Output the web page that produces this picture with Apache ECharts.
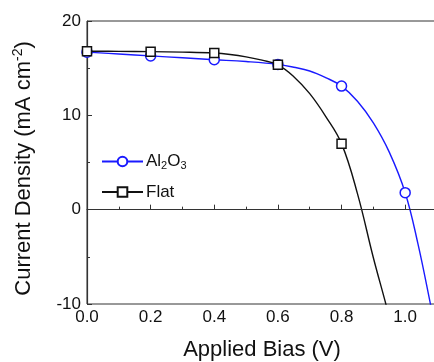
<!DOCTYPE html>
<html>
<head>
<meta charset="utf-8">
<script src="https://cdn.jsdelivr.net/npm/echarts@6/dist/echarts.min.js"></script>
<style>
  html, body { margin: 0; padding: 0; background: #fff; }
  #chart { width: 434px; height: 362px; }
</style>
</head>
<body>
<div id="chart"></div>
<script>
// J-V curves
const al2o3V = [0, 0.1, 0.2, 0.3, 0.4, 0.5, 0.6, 0.65, 0.7, 0.75, 0.8, 0.85, 0.9, 0.95, 1.0, 1.04, 1.08, 1.1];
const al2o3J = [16.7, 16.5, 16.3, 16.1, 15.9, 15.7, 15.4, 15.1, 14.7, 14.0, 13.1, 11.5, 9.2, 6.1, 1.8, -3.6, -10.1, -13.5];
const flatV = [0, 0.1, 0.2, 0.3, 0.4, 0.45, 0.5, 0.55, 0.6, 0.65, 0.7, 0.75, 0.8, 0.85, 0.9, 0.94, 0.96];
const flatJ = [16.8, 16.78, 16.75, 16.7, 16.6, 16.45, 16.2, 15.85, 15.35, 14.1, 12.3, 9.9, 7.0, 1.7, -5.1, -10.1, -12.8];
// voltages where markers are drawn
const markerV = [0, 0.2, 0.4, 0.6, 0.8, 1.0];
const xTicks = [0, 0.2, 0.4, 0.6, 0.8, 1.0];
const yTicks = [-10, 0, 10, 20];

const toData = (vs, js) => vs.map((v, i) => {
    const item = { value: [v, js[i]] };
    if (!markerV.some(m => Math.abs(m - v) < 1e-6)) item.symbol = 'none';
    return item;
});

const myChart = echarts.init(document.getElementById('chart'));

const option = {
    animation: false,
    textStyle: { fontFamily: 'Liberation Sans, Arial, sans-serif', color: '#111' },
    grid: {
        left: 87,
        top: 21,
        right: -3,
        bottom: 58,
        outerBoundsMode: 'none',
        show: true,
        borderColor: '#333',
        borderWidth: 1
    },
    legend: {
        orient: 'vertical',
        left: 96,
        top: 148,
        itemWidth: 41,
        itemHeight: 12,
        itemGap: 12,
        data: ['Al2O3', 'Flat'],
        formatter: name => name === 'Al2O3' ? 'Al{sub|2}O{sub|3}' : name,
        textStyle: {
            fontSize: 17,
            color: '#111',
            padding: [0, 0, 0, -2],
            rich: {
                sub: { fontSize: 11, verticalAlign: 'bottom', padding: [9, 0, 0, 0] }
            }
        }
    },
    xAxis: {
        type: 'value',
        min: 0,
        max: 1.1,
        interval: 0.2,
        name: 'Applied Bias (V)',
        nameLocation: 'middle',
        nameGap: 35,
        nameTextStyle: { fontSize: 22, color: '#111' },
        axisLine: { lineStyle: { color: '#333', width: 1.2 } },
        axisTick: { inside: true, length: 5, lineStyle: { color: '#333' } },
        minorTick: { show: true, splitNumber: 2, length: 3, lineStyle: { color: '#333' } },
        splitLine: { show: false },
        axisLabel: {
            fontSize: 17,
            color: '#111',
            margin: 5,
            formatter: v => xTicks.some(t => Math.abs(t - v) < 1e-6) ? v.toFixed(1) : ''
        }
    },
    yAxis: {
        type: 'value',
        min: -10,
        max: 20,
        interval: 10,
        name: 'Current Density (mA cm{sup|-2})',
        nameLocation: 'middle',
        nameGap: 50,
        nameTextStyle: {
            fontSize: 22,
            color: '#111',
            padding: [0, 12, 0, 0],
            rich: { sup: { fontSize: 14, verticalAlign: 'top', padding: [0, 0, 12, 0] } }
        },
        axisLine: { lineStyle: { color: '#333', width: 1.2 } },
        axisTick: { inside: true, length: 5, lineStyle: { color: '#333' } },
        minorTick: { show: true, splitNumber: 2, length: 3, lineStyle: { color: '#333' } },
        splitLine: { show: false },
        axisLabel: {
            fontSize: 17,
            color: '#111',
            margin: 6,
            formatter: v => yTicks.includes(v) ? String(v) : ''
        }
    },
    series: [
        {
            name: 'Al2O3',
            type: 'line',
            data: toData(al2o3V, al2o3J),
            smooth: 0.4,
            symbol: 'circle',
            symbolSize: 10,
            itemStyle: { color: '#fff', borderColor: '#1a1aff', borderWidth: 1.5 },
            lineStyle: { color: '#1a1aff', width: 1.4 },
            z: 3
        },
        {
            name: 'Flat',
            type: 'line',
            data: toData(flatV, flatJ),
            smooth: 0.4,
            symbol: 'rect',
            symbolSize: 9,
            itemStyle: { color: '#fff', borderColor: '#111', borderWidth: 1.5 },
            lineStyle: { color: '#111', width: 1.4 },
            z: 4,
            markLine: {
                silent: true,
                symbol: 'none',
                label: { show: false },
                lineStyle: { color: '#333', width: 1, type: 'solid' },
                data: [{ yAxis: 0 }]
            }
        }
    ]
};

option && myChart.setOption(option);
</script>
</body>
</html>
